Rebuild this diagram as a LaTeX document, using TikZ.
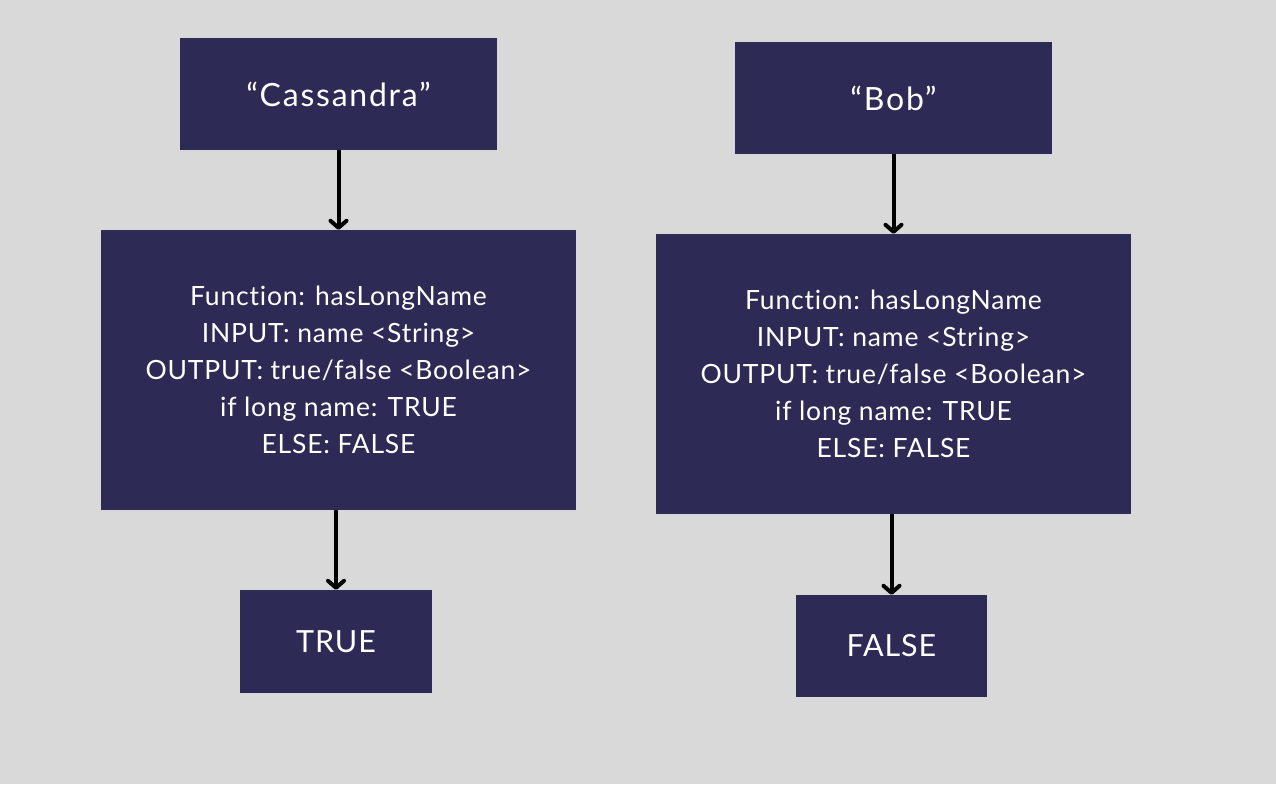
\documentclass[tikz,border=0pt]{standalone}
\usepackage{fontspec}
\setmainfont{Lato}[LetterSpace=3,Ligatures={NoCommon,NoRare}]
\newfontfamily\namefont{Lato}[LetterSpace=5.5]
\usetikzlibrary{arrows.meta,positioning}
\definecolor{navy}{HTML}{2D2A55}
\definecolor{bg}{HTML}{D9D9D9}
\tikzset{
	box/.style={fill=navy,text=white,rectangle,align=center,inner sep=0pt},
	namebox/.style={box,minimum width=317pt,minimum height=112pt,font=\namefont\fontsize{32}{38}\selectfont},
	funbox/.style={box,minimum width=475pt,minimum height=280pt,font=\fontsize{26.5}{37}\selectfont},
	resbox/.style={box,minimum width=192pt,minimum height=103pt,font=\fontsize{30.5}{37}\selectfont},
	flow/.style={line width=4pt,-{Straight Barb[length=7pt,width=16pt,line cap=round,line join=round]}}
}

\begin{document}
\begin{tikzpicture}[x=1pt,y=-1pt]
			\fill[bg] (0,0) rectangle (1276,784);
			\useasboundingbox (0,0) rectangle (1276,784);
			
			\node[namebox] (cname) at (338.5,94) {“Cassandra”};
			\node[funbox] (cfun) at (338.5,370) {Function: hasLongName\\INPUT: name <String>\\OUTPUT: true/false <Boolean>\\if long name: TRUE\\ELSE: FALSE};
			\node[resbox] (cres) at (336,641.5) {TRUE};
			
			\node[namebox] (bname) at (893.5,98) {“Bob”};
			\node[funbox] (bfun) at (893.5,374) {Function: hasLongName\\INPUT: name <String>\\OUTPUT: true/false <Boolean>\\if long name: TRUE\\ELSE: FALSE};
			\node[resbox,minimum width=191pt,minimum height=102pt] (bres) at (891.5,646) {FALSE};
			
			\draw[flow] (cname) -- (cfun);
			\draw[flow] (cres.north |- cfun.south) -- (cres);
			\draw[flow] (bname) -- (bfun);
			\draw[flow] (bres.north |- bfun.south) -- (bres);
		\end{tikzpicture}
\end{document}
